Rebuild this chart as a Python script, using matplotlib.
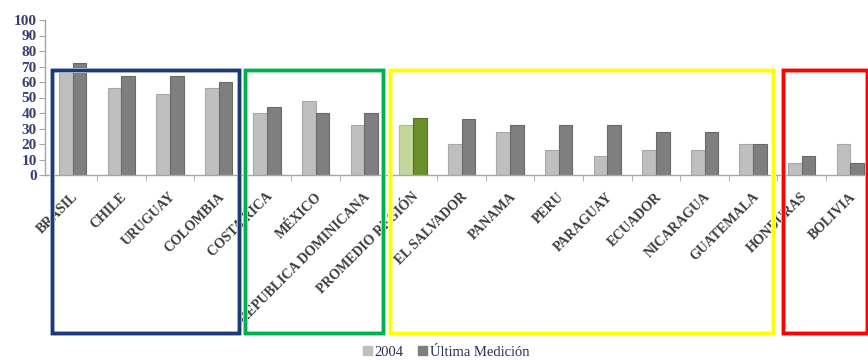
import numpy as np
import matplotlib
matplotlib.use("Agg")
import matplotlib.pyplot as plt
from matplotlib.patches import Rectangle, Patch
import matplotlib.patheffects as pe

paises = ["BRASIL", "CHILE", "URUGUAY", "COLOMBIA", "COSTA RICA", "MÉXICO",
          "REPUBLICA DOMINICANA", "PROMEDIO REGIÓN", "EL SALVADOR", "PANAMA",
          "PERU", "PARAGUAY", "ECUADOR", "NICARAGUA", "GUATEMALA", "HONDURAS",
          "BOLIVIA"]
v2004 = [68, 56, 52, 56, 40, 48, 32, 32, 20, 28, 16, 12, 16, 16, 20, 8, 20]
ultima = [72, 64, 64, 60, 44, 40, 40, 37, 36, 32, 32, 32, 28, 28, 20, 12, 8]
promedio = "PROMEDIO REGIÓN"

W, H = 868, 360
fig = plt.figure(figsize=(W / 100, H / 100), dpi=100)

# axes placed in pixels: y-axis at x=45, zero line at y=175, 100 at y=20
paso = 48.6
x0 = -0.57
ax_left, ax_bottom, ax_top = 45, 175, 20
ax_w = (len(paises) - 0.5 - x0) * paso
ax = fig.add_axes([ax_left / W, (H - ax_bottom) / H, ax_w / W, (ax_bottom - ax_top) / H])
ax.set_xlim(x0, len(paises) - 0.5)
ax.set_ylim(0, 100)

x = np.arange(len(paises))
bw = 0.28
c_claro = ["#c4d79b" if p == promedio else "#bfbfbf" for p in paises]
c_oscuro = ["#6b8f2b" if p == promedio else "#7f7f7f" for p in paises]
e_claro = ["#a9c07a" if p == promedio else "#a8a8a8" for p in paises]
e_oscuro = ["#55761d" if p == promedio else "#6a6a6a" for p in paises]
ax.bar(x - bw / 2, v2004, bw, color=c_claro, edgecolor=e_claro, linewidth=0.8)
ax.bar(x + bw / 2, ultima, bw, color=c_oscuro, edgecolor=e_oscuro, linewidth=0.8)

for s in ["top", "right"]:
    ax.spines[s].set_visible(False)
for s in ["left", "bottom"]:
    ax.spines[s].set_color("#a6a6a6")
    ax.spines[s].set_linewidth(1)

ax.set_yticks(np.arange(0, 101, 10))
ax.tick_params(axis="y", length=4, color="#a6a6a6", pad=2)
for t in ax.get_yticklabels():
    t.set_family("Liberation Serif")
    t.set_fontsize(11)
    t.set_fontweight("bold")
    t.set_color("#3a3f6e")

ax.set_xticks(x - 0.02)
ax.set_xticklabels(paises, rotation=45, ha="right", rotation_mode="anchor",
                   family="Liberation Serif", fontsize=10, fontweight="bold",
                   color="#3c3c3c")
ax.tick_params(axis="x", length=0, pad=11)
ax.set_xticks(np.arange(0.5, len(paises) - 1, 1), minor=True)
ax.tick_params(axis="x", which="minor", length=4, color="#a6a6a6")

# group frames drawn over the labels
grupos = [(52, 69.5, 239, 333, "#1b3a7c"),
          (245, 69.5, 383, 333, "#00b050"),
          (390, 70, 773, 333, "#ffff00"),
          (783, 70, 867, 333, "#ff0000")]
for xa, ya, xb, yb, col in grupos:
    r = Rectangle((xa / W, 1 - yb / H), (xb - xa) / W, (yb - ya) / H,
                  transform=fig.transFigure, fill=False, edgecolor=col,
                  linewidth=2.5, zorder=10)
    r.set_path_effects([pe.withStroke(linewidth=3.6, foreground="white"), pe.Normal()])
    fig.add_artist(r)

handles = [Patch(facecolor="#bfbfbf", edgecolor="#bfbfbf"),
           Patch(facecolor="#7f7f7f", edgecolor="#7f7f7f")]
leg = fig.legend(handles, ["2004", "Última Medición"], loc="center",
                 bbox_to_anchor=(446 / W, 1 - 352 / H), ncol=2, frameon=False,
                 handlelength=0.6, handleheight=0.6, handletextpad=0.2,
                 columnspacing=1.0, prop={"family": "Liberation Serif", "size": 10.5})
for t in leg.get_texts():
    t.set_color("#2a2f5a")

fig.savefig("out.png", dpi=100)
